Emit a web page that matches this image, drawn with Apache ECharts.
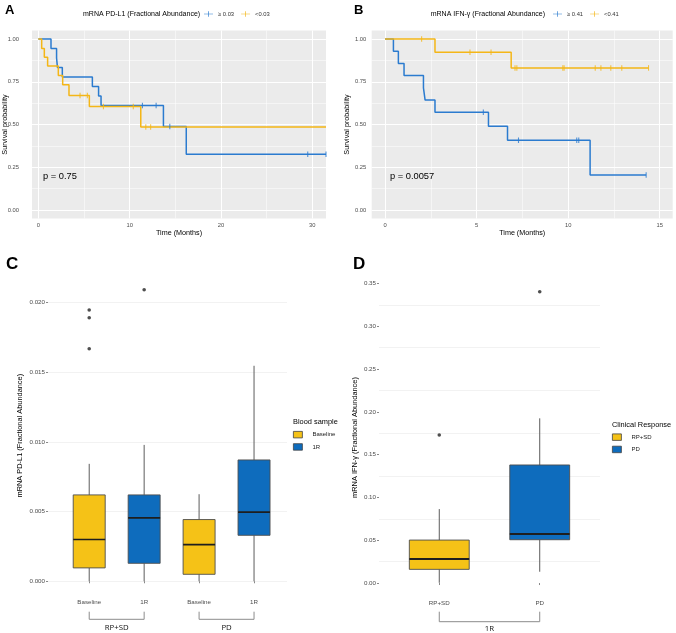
<!DOCTYPE html>
<html><head><meta charset="utf-8">
<script src="https://cdn.jsdelivr.net/npm/echarts@6/dist/echarts.min.js"></script>
<style>html,body{margin:0;padding:0;background:#fff}#c{width:676px;height:633px}</style>
</head><body><div id="c"></div>
<script>
// ---------- Panel A : mRNA PD-L1 Kaplan-Meier ----------
const aTitle = 'mRNA PD-L1 (Fractional Abundance)';
const aHighName = '≥ 0.03', aLowName = '<0.03';
const aTicksX = [0, 10, 20, 30];
const aMinorX = [5, 15, 25];
const aHighTime = [0, 1.39, 2.0, 2.1, 2.63, 5.92, 6.6, 6.87, 13.7, 16.2, 31.5];
const aHighSurv = [1, 0.944, 0.889, 0.833, 0.778, 0.722, 0.667, 0.611, 0.489, 0.326, 0.326];
const aHighCens = [11.4, 12.9, 14.4, 29.5, 31.5];
const aLowTime = [0, 0.37, 0.66, 1.02, 2.19, 2.67, 3.36, 5.59, 11.22, 31.5];
const aLowSurv = [1, 0.945, 0.893, 0.842, 0.786, 0.733, 0.670, 0.606, 0.486, 0.486];
const aLowCens = [4.57, 5.37, 7.13, 10.4, 11.77, 12.3];
const aP = 'p = 0.75';
// ---------- Panel B : mRNA IFN-γ Kaplan-Meier ----------
const bTitle = 'mRNA IFN-γ (Fractional Abundance)';
const bHighName = '≥ 0.41', bLowName = '<0.41';
const bTicksX = [0, 5, 10, 15];
const bMinorX = [2.5, 7.5, 12.5];
const bHighTime = [0, 0.46, 0.73, 1.04, 2.1, 2.19, 2.73, 5.65, 6.69, 11.2, 14.26];
const bHighSurv = [1, 0.929, 0.857, 0.786, 0.714, 0.643, 0.571, 0.49, 0.408, 0.204, 0.204];
const bHighCens = [5.37, 7.29, 10.47, 10.58, 14.26];
const bLowTime = [0, 2.73, 6.89, 14.39];
const bLowSurv = [1, 0.923, 0.831, 0.831];
const bLowCens = [2.0, 4.64, 5.79, 7.1, 7.2, 9.71, 9.78, 11.48, 11.79, 12.33, 12.93, 14.39];
const bP = 'p = 0.0057';
const survTicks = [0, 0.25, 0.5, 0.75, 1];
const survMinor = [0.125, 0.375, 0.625, 0.875];
// ---------- Panel C : PD-L1 box plots ----------
const cCats = ['Baseline', '1R', 'Baseline', '1R'];
const cGroups = ['RP+SD', 'PD'];
const cLegendTitle = 'Blood sample';
// [lower whisker, Q1, median, Q3, upper whisker] per group
const cBaseline = [[0, 0.00096, 0.0030, 0.0062, 0.00843], [0, 0.0005, 0.00263, 0.00443, 0.00625]];
const c1R = [[0, 0.00129, 0.00455, 0.0062, 0.00979], [0, 0.0033, 0.00496, 0.00871, 0.01547]];
const cBaselineOut = [[0.01947, 0.01892, 0.01669], []];
const c1ROut = [[0.02093], []];
const cTicksY = [0, 0.005, 0.010, 0.015, 0.020];
const cYName = 'mRNA PD-L1 (Fractional Abundance)';
// ---------- Panel D : IFN-γ box plots ----------
const dCats = ['RP+SD', 'PD'];
const dGroup = '1R';
const dLegendTitle = 'Clinical Response';
const dBoxes = [[0.0003, 0.016, 0.028, 0.0502, 0.0864], [0.0132, 0.0506, 0.0573, 0.1379, 0.1924]];
const dOut = [[0.1729], [0.3403]];
const dTicksY = [0, 0.05, 0.10, 0.15, 0.20, 0.25, 0.30, 0.35];
const dMinorY = [0.025, 0.075, 0.125, 0.175, 0.225, 0.275, 0.325];
const dYName = 'mRNA IFN-γ (Fractional Abundance)';

// ---------- styles ----------
const FONT = 'Liberation Sans, Arial, sans-serif';
const BLUE_L = '#2b7bcf', YEL_L = '#f4b617', BLUE_F = '#0e6cbd', YEL_F = '#f5c217';
const TICK_C = '#4d4d4d';
const KM_ICON = 'path://M0,4.4H7.4V0H8.6V4.4H16V5.6H8.6V10H7.4V5.6H0Z';

const chart = echarts.init(document.getElementById('c'), null, {renderer: 'canvas'});
const zip = (a, b) => a.map((v, i) => [v, b[i]]);
function survAt(times, surv, t) { let s = surv[0]; for (let i = 0; i < times.length; i++) if (times[i] <= t + 1e-9) s = surv[i]; return s; }
const censData = (times, surv, cens) => cens.map(t => [t, survAt(times, surv, t)]);

function kmX(grid, min, max, ticks, name) {
  return {type: 'value', gridIndex: grid, min, max, name, nameLocation: 'middle', nameGap: 11, nameMoveOverlap: false,
    nameTextStyle: {fontSize: 7.2, color: '#000', fontFamily: FONT},
    axisLine: {show: false}, axisTick: {show: false, customValues: ticks},
    axisLabel: {customValues: ticks, fontSize: 5.8, color: TICK_C, margin: 4, fontFamily: FONT},
    splitLine: {show: true, lineStyle: {color: '#ffffff', width: 1.1}}};
}
function minorAxis(grid, min, max, vals, pos) {
  return {type: 'value', gridIndex: grid, min, max, position: pos,
    axisLine: {show: false}, axisTick: {show: false, customValues: vals}, axisLabel: {show: false, customValues: vals},
    splitLine: {show: true, lineStyle: {color: '#ffffff', width: 0.5}}};
}
function kmY(grid, margin, gap) {
  return {type: 'value', gridIndex: grid, min: -0.05, max: 1.05, name: 'Survival probability', nameLocation: 'middle', nameGap: gap, nameMoveOverlap: false,
    nameTextStyle: {fontSize: 7.2, color: '#000', fontFamily: FONT},
    axisLine: {show: false}, axisTick: {show: false, customValues: survTicks},
    axisLabel: {customValues: survTicks, formatter: v => v.toFixed(2), fontSize: 5.8, color: TICK_C, margin, fontFamily: FONT},
    splitLine: {show: true, lineStyle: {color: '#ffffff', width: 1.1}}};
}
function kmLine(name, x, y, times, surv, color) {
  return {type: 'line', name, xAxisIndex: x, yAxisIndex: y, step: 'end', data: zip(times, surv), showSymbol: false, symbol: 'none',
    lineStyle: {color, width: 1.5}, itemStyle: {color}, z: 3};
}
function kmCens(name, x, y, times, surv, cens, color) {
  return {type: 'scatter', name, xAxisIndex: x, yAxisIndex: y, data: censData(times, surv, cens), symbol: 'rect', symbolSize: [1.1, 5.5],
    itemStyle: {color}, z: 4};
}
function boxRenderer(fill, halfW, medW) {
  return function (params, api) {
    const x = api.value(0);
    const c = [1, 2, 3, 4, 5].map(d => api.coord([x, api.value(d)]));
    const cx = c[0][0];
    const hw = api.size([halfW, 0])[0];
    return {type: 'group', children: [
      {type: 'line', shape: {x1: cx, y1: c[4][1], x2: cx, y2: c[3][1]}, style: {stroke: '#5c5c5c', lineWidth: 1}},
      {type: 'line', shape: {x1: cx, y1: c[1][1], x2: cx, y2: c[0][1]}, style: {stroke: '#5c5c5c', lineWidth: 1}},
      {type: 'rect', shape: {x: cx - hw, y: c[3][1], width: 2 * hw, height: c[1][1] - c[3][1]}, style: {fill, stroke: '#4d4d4d', lineWidth: 0.9}},
      {type: 'line', shape: {x1: cx - hw, y1: c[2][1], x2: cx + hw, y2: c[2][1]}, style: {stroke: '#1e1e1e', lineWidth: medW}}
    ]};
  };
}
function titleText(text, left, top, size, weight) {
  return {text, left, top, padding: 0, textStyle: {fontSize: size, fontWeight: weight || 'normal', color: '#000', fontFamily: FONT}};
}

// positions of category centres
const cPos = cCats.map((_, i) => i + 1.5);
const dPos = dCats.map((_, i) => (i + 1) * 5);
const cFmt = v => { const i = cPos.findIndex(p => Math.abs(p - v) < 1e-6); return i >= 0 ? cCats[i] : ''; };
const dFmt = v => { const i = dPos.findIndex(p => Math.abs(p - v) < 1e-6); return i >= 0 ? dCats[i] : ''; };

const cBaseData = cBaseline.map((b, g) => [cPos[cCats.indexOf('Baseline', g * 2)], ...b]);
const c1RData = c1R.map((b, g) => [cPos[cCats.indexOf('1R', g * 2)], ...b]);
const cOutData = [];
cBaselineOut.forEach((arr, g) => arr.forEach(v => cOutData.push([cPos[g * 2], v])));
c1ROut.forEach((arr, g) => arr.forEach(v => cOutData.push([cPos[g * 2 + 1], v])));
const dOutData = [];
dOut.forEach((arr, i) => arr.forEach(v => dOutData.push([dPos[i], v])));

const option = {
  animation: false,
  backgroundColor: '#ffffff',
  title: [
    titleText('A', 5, 3.5, 13, 'bold'),
    titleText('B', 354, 3.5, 13, 'bold'),
    titleText('C', 6, 256, 17, 'bold'),
    titleText('D', 353, 256, 17, 'bold'),
    titleText(aTitle, 83, 10.5, 7),
    titleText(bTitle, 430.7, 10.5, 7),
    titleText(aP, 43, 172, 9.3),
    titleText(bP, 390, 172, 9.3),
    titleText(cLegendTitle, 293, 418.5, 7.4),
    titleText(dLegendTitle, 612, 421, 7.4)
  ],
  legend: [
    {left: 204, top: 11, padding: 0, itemWidth: 9, itemHeight: 6, itemGap: 7, textStyle: {fontSize: 5.8, color: '#333', fontFamily: FONT},
      data: [{name: aHighName, icon: KM_ICON, itemStyle: {color: BLUE_L}}, {name: aLowName, icon: KM_ICON, itemStyle: {color: YEL_L}}]},
    {left: 553, top: 11, padding: 0, itemWidth: 9, itemHeight: 6, itemGap: 7, textStyle: {fontSize: 5.8, color: '#333', fontFamily: FONT},
      data: [{name: bHighName, icon: KM_ICON, itemStyle: {color: BLUE_L}}, {name: bLowName, icon: KM_ICON, itemStyle: {color: YEL_L}}]},
    {left: 293, top: 431, padding: 0, orient: 'vertical', itemWidth: 9, itemHeight: 6.5, itemGap: 5, textStyle: {fontSize: 6, color: '#222', fontFamily: FONT, padding: [0, 0, 0, 5]},
      data: [{name: 'Baseline', icon: 'rect', itemStyle: {color: YEL_F, borderColor: '#444', borderWidth: 0.8}},
             {name: '1R', icon: 'rect', itemStyle: {color: BLUE_F, borderColor: '#444', borderWidth: 0.8}}]},
    {left: 612, top: 433.5, padding: 0, orient: 'vertical', itemWidth: 9, itemHeight: 6.5, itemGap: 5, textStyle: {fontSize: 6, color: '#222', fontFamily: FONT, padding: [0, 0, 0, 5]},
      data: [{name: 'RP+SD', icon: 'rect', itemStyle: {color: YEL_F, borderColor: '#444', borderWidth: 0.8}},
             {name: 'PD', icon: 'rect', itemStyle: {color: BLUE_F, borderColor: '#444', borderWidth: 0.8}}]}
  ],
  grid: [
    {left: 32, top: 30.5, width: 294, height: 188, show: true, backgroundColor: '#ebebeb', borderWidth: 0, outerBoundsMode: 'none', containLabel: false},
    {left: 371.7, top: 30.5, width: 301, height: 188, show: true, backgroundColor: '#ebebeb', borderWidth: 0, outerBoundsMode: 'none', containLabel: false},
    {left: 48, top: 275.5, width: 239, height: 320.4, outerBoundsMode: 'none', containLabel: false},
    {left: 379, top: 277.4, width: 221, height: 320.2, outerBoundsMode: 'none', containLabel: false}
  ],
  xAxis: [
    kmX(0, -0.69, 31.5, aTicksX, 'Time (Months)'),
    minorAxis(0, -0.69, 31.5, aMinorX, 'top'),
    kmX(1, -0.726, 15.71, bTicksX, 'Time (Months)'),
    minorAxis(1, -0.726, 15.71, bMinorX, 'top'),
    {type: 'value', gridIndex: 2, min: 0.75, max: 5.1,
      axisLine: {show: false}, axisTick: {show: true, customValues: cPos, length: 2, lineStyle: {color: '#888'}},
      axisLabel: {customValues: cPos, formatter: cFmt, fontSize: 6.2, color: TICK_C, margin: 3.5, fontFamily: FONT},
      splitLine: {show: false}},
    {type: 'value', gridIndex: 3, min: 2, max: 13,
      axisLine: {show: false}, axisTick: {show: true, customValues: dPos, length: 2, lineStyle: {color: '#888'}},
      axisLabel: {customValues: dPos, formatter: dFmt, fontSize: 6.2, color: TICK_C, margin: 3, fontFamily: FONT},
      splitLine: {show: false}}
  ],
  yAxis: [
    kmY(0, 13, 23),
    minorAxis(0, -0.05, 1.05, survMinor, 'right'),
    kmY(1, 5.5, 21),
    minorAxis(1, -0.05, 1.05, survMinor, 'right'),
    {type: 'value', gridIndex: 2, min: -0.00105, max: 0.02195, name: cYName, nameLocation: 'middle', nameGap: 25, nameMoveOverlap: false,
      nameTextStyle: {fontSize: 7.4, color: '#000', fontFamily: FONT},
      axisLine: {show: false}, axisTick: {show: true, customValues: cTicksY, length: 2, lineStyle: {color: '#888'}},
      axisLabel: {customValues: cTicksY, formatter: v => v.toFixed(3), fontSize: 6.2, color: TICK_C, margin: 3, fontFamily: FONT},
      splitLine: {show: true, lineStyle: {color: '#efefef', width: 0.8}}},
    {type: 'value', gridIndex: 3, min: -0.017, max: 0.357, name: dYName, nameLocation: 'middle', nameGap: 21, nameMoveOverlap: false,
      nameTextStyle: {fontSize: 7.4, color: '#000', fontFamily: FONT},
      axisLine: {show: false}, axisTick: {show: true, customValues: dTicksY, length: 2, lineStyle: {color: '#888'}},
      axisLabel: {customValues: dTicksY, formatter: v => v.toFixed(2), fontSize: 6.2, color: TICK_C, margin: 3, fontFamily: FONT},
      splitLine: {show: false}},
    {type: 'value', gridIndex: 3, min: -0.017, max: 0.357, position: 'right',
      axisLine: {show: false}, axisTick: {show: false, customValues: dMinorY}, axisLabel: {show: false, customValues: dMinorY},
      splitLine: {show: true, lineStyle: {color: '#efefef', width: 0.8}}}
  ],
  series: [
    kmLine(aHighName, 0, 0, aHighTime, aHighSurv, BLUE_L),
    kmCens(aHighName, 0, 0, aHighTime, aHighSurv, aHighCens, BLUE_L),
    kmLine(aLowName, 0, 0, aLowTime, aLowSurv, YEL_L),
    kmCens(aLowName, 0, 0, aLowTime, aLowSurv, aLowCens, YEL_L),
    kmLine(bHighName, 2, 2, bHighTime, bHighSurv, BLUE_L),
    kmCens(bHighName, 2, 2, bHighTime, bHighSurv, bHighCens, BLUE_L),
    kmLine(bLowName, 2, 2, bLowTime, bLowSurv, YEL_L),
    kmCens(bLowName, 2, 2, bLowTime, bLowSurv, bLowCens, YEL_L),
    {type: 'custom', name: 'Baseline', xAxisIndex: 4, yAxisIndex: 4, data: cBaseData, encode: {x: 0, y: [1, 2, 3, 4, 5]},
      renderItem: boxRenderer(YEL_F, 0.291, 1.7), itemStyle: {color: YEL_F}, z: 3},
    {type: 'custom', name: '1R', xAxisIndex: 4, yAxisIndex: 4, data: c1RData, encode: {x: 0, y: [1, 2, 3, 4, 5]},
      renderItem: boxRenderer(BLUE_F, 0.291, 1.7), itemStyle: {color: BLUE_F}, z: 3},
    {type: 'scatter', name: 'cOutliers', xAxisIndex: 4, yAxisIndex: 4, data: cOutData, symbolSize: 3.6, itemStyle: {color: '#222'}, z: 4},
    {type: 'custom', name: 'RP+SD', xAxisIndex: 5, yAxisIndex: 5, data: [[dPos[0], ...dBoxes[0]]], encode: {x: 0, y: [1, 2, 3, 4, 5]},
      renderItem: boxRenderer(YEL_F, 1.49, 1.9), itemStyle: {color: YEL_F}, z: 3},
    {type: 'custom', name: 'PD', xAxisIndex: 5, yAxisIndex: 5, data: [[dPos[1], ...dBoxes[1]]], encode: {x: 0, y: [1, 2, 3, 4, 5]},
      renderItem: boxRenderer(BLUE_F, 1.49, 1.9), itemStyle: {color: BLUE_F}, z: 3},
    {type: 'scatter', name: 'dOutliers', xAxisIndex: 5, yAxisIndex: 5, data: dOutData, symbolSize: 3.6, itemStyle: {color: '#222'}, z: 4}
  ]
};
chart.setOption(option);

// group brackets below the box-plot axes, positioned through the axis scales
function bracket(xAxisIndex, v1, v2, gridBottom, dTop, dBot, dText, label) {
  const x1 = chart.convertToPixel({xAxisIndex}, v1), x2 = chart.convertToPixel({xAxisIndex}, v2);
  const yT = gridBottom + dTop, yB = gridBottom + dBot;
  return [
    {type: 'polyline', shape: {points: [[x1, yT], [x1, yB], [x2, yB], [x2, yT]]}, style: {stroke: '#8c8c8c', lineWidth: 1, fill: null}},
    {type: 'text', x: (x1 + x2) / 2, y: gridBottom + dText, style: {text: label, fontSize: 7.8, fontFamily: 'Open Sans, Liberation Sans, sans-serif', fill: '#111', align: 'center', verticalAlign: 'middle'}}
  ];
}
const cBottom = 275.5 + 320.4, dBottom = 277.4 + 320.2;
const graphics = [];
cGroups.forEach((g, gi) => graphics.push(...bracket(4, cPos[gi * 2], cPos[gi * 2 + 1], cBottom, 15.8, 23.4, 31.8, g)));
graphics.push(...bracket(5, dPos[0], dPos[dPos.length - 1], dBottom, 14.1, 24.1, 30.7, dGroup));
chart.setOption({graphic: graphics});
</script></body></html>
